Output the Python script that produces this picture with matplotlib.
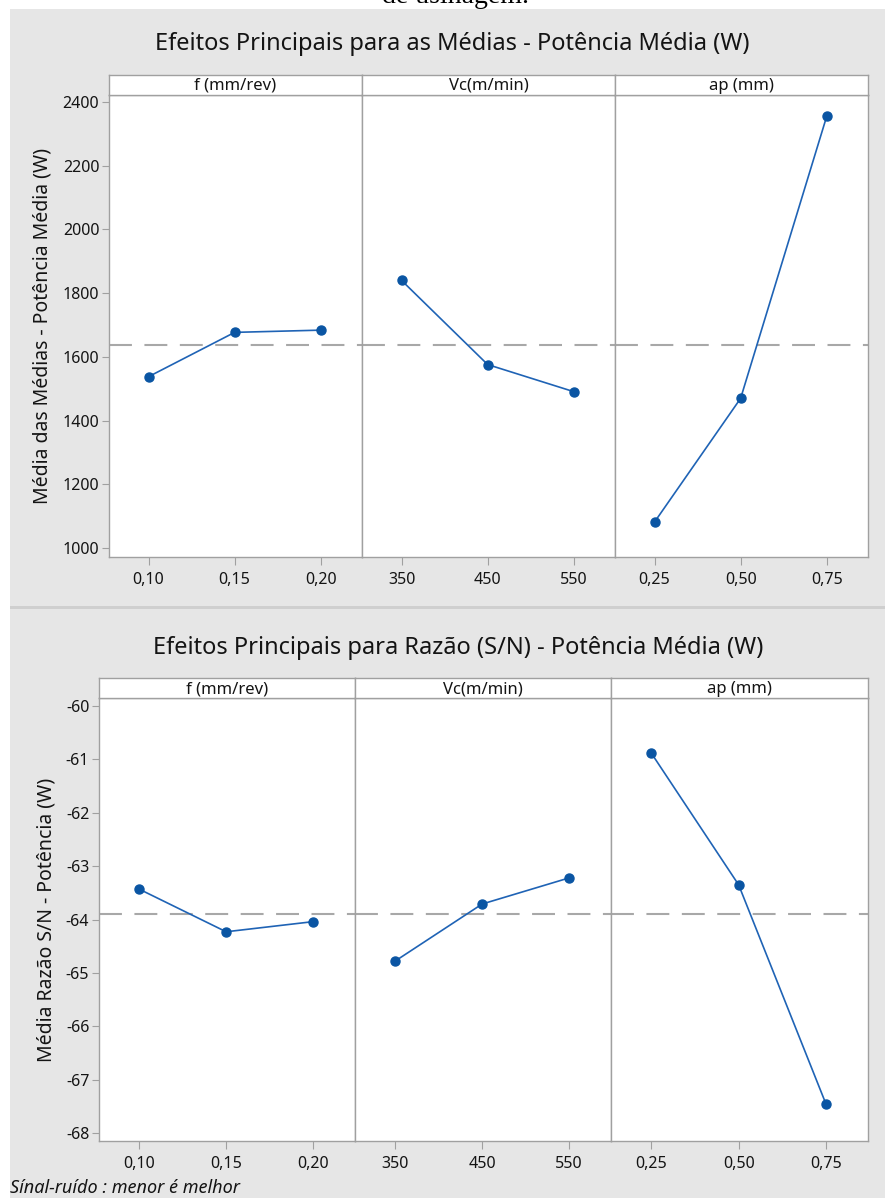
import matplotlib
matplotlib.use('Agg')
import matplotlib.pyplot as plt
from matplotlib.patches import Rectangle

plt.rcParams['font.family'] = ['Noto Sans', 'DejaVu Sans']

W, H = 885, 1198

# dados - medias
fatores = ['f (mm/rev)', 'Vc(m/min)', 'ap (mm)']
niveis = [['0,10', '0,15', '0,20'], ['350', '450', '550'], ['0,25', '0,50', '0,75']]
medias_f = [1538, 1677, 1684]
medias_vc = [1840, 1576, 1491]
medias_ap = [1082, 1470, 2355]
media_geral = 1636

# dados - razao S/N
sn_f = [-63.43, -64.23, -64.04]
sn_vc = [-64.78, -63.71, -63.22]
sn_ap = [-60.88, -63.35, -67.46]
sn_geral = -63.90

BG = '#e6e6e6'
GRID = '#a0a0a0'
LINE = '#1f63b5'
MARK = '#0a55a3'
TXT = '#141414'


def box(x0, y0, x1, y1):
    return [x0 / W, 1 - y1 / H, (x1 - x0) / W, (y1 - y0) / H]


def painel(fig, xs, y_top, y_strip, y_bot, series, media, ylim, yticks, ylabel, title, title_x, title_y):
    fig.text(title_x / W, 1 - title_y / H, title,
             ha='center', va='center', fontsize=17, color=TXT)
    for i in range(3):
        ax = fig.add_axes(box(xs[i], y_strip, xs[i + 1], y_bot))
        ax.set_facecolor('white')
        ax.plot(range(3), series[i], color=LINE, lw=1.2, marker='o',
                ms=6.5, mfc=MARK, mec=MARK, zorder=3)
        ax.axhline(media, color='#a8a8a8', lw=1.5, dashes=(11, 6), zorder=2)
        ax.set_xlim(-0.46, 2.48)
        ax.set_ylim(ylim)
        ax.set_xticks(range(3))
        ax.set_xticklabels(niveis[i], fontsize=11.5)
        for s in ax.spines.values():
            s.set_color(GRID)
            s.set_linewidth(1.0)
        ax.tick_params(axis='x', colors=GRID, labelcolor=TXT, length=6, pad=5)
        if i == 0:
            ax.set_yticks(yticks)
            ax.set_yticklabels([str(t) for t in yticks], fontsize=11.5)
            ax.tick_params(axis='y', colors=GRID, labelcolor=TXT, length=5, pad=2)
            ax.set_ylabel(ylabel, fontsize=14, color=TXT, labelpad=7)
        else:
            ax.set_yticks([])

        # faixa do fator
        sa = fig.add_axes(box(xs[i], y_top, xs[i + 1], y_strip))
        sa.set_xticks([])
        sa.set_yticks([])
        sa.set_facecolor('white')
        for s in sa.spines.values():
            s.set_color(GRID)
            s.set_linewidth(1.0)
        sa.text(0.5, 0.45, fatores[i], ha='center', va='center', fontsize=12,
                color=TXT, transform=sa.transAxes)


fig = plt.figure(figsize=(W / 100, H / 100), dpi=100)
fig.patch.set_facecolor('white')

# fundo cinza
fig.add_artist(Rectangle((10 / W, 0), 1 - 10 / W, 1 - 9 / H, transform=fig.transFigure,
                         facecolor=BG, edgecolor='none', zorder=-10))
fig.add_artist(Rectangle((10 / W, 1 - 609 / H), 1 - 10 / W, 3 / H, transform=fig.transFigure,
                         facecolor='#cfcfcf', edgecolor='none', zorder=-9))

# texto cortado no topo (legenda do documento)
fig.text(455 / W, 1 - 3 / H, 'de usinagem.', ha='center', va='baseline',
         fontsize=20, family='Liberation Serif', color='black', zorder=-11)

painel(fig, [109, 362, 615, 868], 75, 95, 557,
       [medias_f, medias_vc, medias_ap], media_geral, (972, 2422),
       [1000, 1200, 1400, 1600, 1800, 2000, 2200, 2400],
       'Média das Médias - Potência Média (W)',
       'Efeitos Principais para as Médias - Potência Média (W)', 452, 44)

painel(fig, [99, 355, 611, 868], 678, 698, 1141,
       [sn_f, sn_vc, sn_ap], sn_geral, (-68.15, -59.85),
       [-68, -67, -66, -65, -64, -63, -62, -61, -60],
       'Média Razão S/N - Potência (W)',
       'Efeitos Principais para Razão (S/N) - Potência Média (W)', 458, 648)

fig.text(10 / W, 1 - 1188 / H, 'Sínal-ruído : menor é melhor', ha='left', va='center',
         fontsize=13, style='italic', color=TXT)

fig.savefig('out.png', dpi=100, facecolor=fig.get_facecolor())
